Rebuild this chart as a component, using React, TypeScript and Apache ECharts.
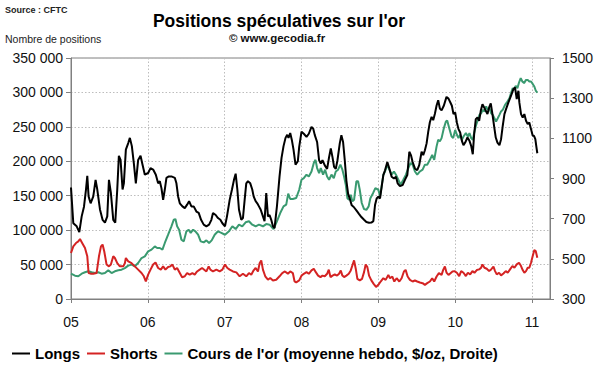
import React, { useEffect, useRef } from "react";
import * as echarts from "echarts";

// Decimal years (weekly CFTC data)
const longDates = [
  2005.000, 2005.030, 2005.074, 2005.108, 2005.139, 2005.169, 2005.195, 2005.212, 2005.229, 2005.255,
  2005.290, 2005.320, 2005.342, 2005.377, 2005.411, 2005.442, 2005.472, 2005.494, 2005.519, 2005.550,
  2005.576, 2005.602, 2005.623, 2005.645, 2005.671, 2005.688, 2005.714, 2005.745, 2005.766, 2005.792,
  2005.818, 2005.844, 2005.874, 2005.905, 2005.931, 2005.961, 2006.004, 2006.035, 2006.069, 2006.104,
  2006.134, 2006.156, 2006.177, 2006.199, 2006.221, 2006.242, 2006.273, 2006.307, 2006.351, 2006.372,
  2006.394, 2006.416, 2006.450, 2006.481, 2006.511, 2006.537, 2006.567, 2006.597, 2006.632, 2006.662,
  2006.693, 2006.727, 2006.762, 2006.797, 2006.827, 2006.848, 2006.883, 2006.913, 2006.944, 2006.970,
  2007.004, 2007.030, 2007.065, 2007.095, 2007.121, 2007.143, 2007.165, 2007.186, 2007.216, 2007.238,
  2007.260, 2007.281, 2007.303, 2007.333, 2007.359, 2007.377, 2007.403, 2007.424, 2007.446, 2007.468,
  2007.498, 2007.519, 2007.541, 2007.563, 2007.584, 2007.606, 2007.628, 2007.649, 2007.680, 2007.714,
  2007.740, 2007.766, 2007.792, 2007.814, 2007.831, 2007.853, 2007.874, 2007.896, 2007.922, 2007.952,
  2007.970, 2008.000, 2008.030, 2008.065, 2008.095, 2008.130, 2008.152, 2008.173, 2008.203, 2008.229,
  2008.251, 2008.273, 2008.303, 2008.333, 2008.359, 2008.381, 2008.403, 2008.424, 2008.446, 2008.468,
  2008.498, 2008.519, 2008.541, 2008.563, 2008.584, 2008.606, 2008.628, 2008.654, 2008.680, 2008.714,
  2008.745, 2008.779, 2008.814, 2008.844, 2008.879, 2008.909, 2008.935, 2008.957, 2008.978, 2009.000,
  2009.022, 2009.043, 2009.065, 2009.087, 2009.117, 2009.143, 2009.173, 2009.203, 2009.229, 2009.251,
  2009.281, 2009.316, 2009.346, 2009.377, 2009.403, 2009.424, 2009.446, 2009.476, 2009.506, 2009.532,
  2009.563, 2009.584, 2009.606, 2009.628, 2009.649, 2009.671, 2009.693, 2009.714, 2009.736, 2009.758,
  2009.779, 2009.801, 2009.823, 2009.853, 2009.887, 2009.913, 2009.939, 2009.957, 2009.978, 2010.000,
  2010.022, 2010.043, 2010.065, 2010.087, 2010.108, 2010.130, 2010.160, 2010.186, 2010.208, 2010.229,
  2010.247, 2010.268, 2010.290, 2010.312, 2010.333, 2010.355, 2010.377, 2010.398, 2010.420, 2010.442,
  2010.463, 2010.485, 2010.506, 2010.528, 2010.550, 2010.576, 2010.597, 2010.619, 2010.641, 2010.662,
  2010.693, 2010.727, 2010.758, 2010.779, 2010.801, 2010.823, 2010.835, 2010.857, 2010.879, 2010.900,
  2010.922, 2010.944, 2010.965, 2010.987, 2011.009, 2011.026, 2011.043, 2011.061, 2011.069,
];
const longValues = [
  162000, 110000, 105500, 97000, 120000, 134000, 159000, 179000, 149000, 139000,
  149000, 173000, 159000, 130000, 115000, 111000, 120000, 173000, 154000, 115000,
  111000, 159000, 208000, 202000, 159000, 168000, 217000, 226500, 234000, 222000,
  197000, 168000, 202000, 208000, 195000, 180500, 183000, 190000, 188000, 180500,
  168000, 171000, 161000, 144000, 159000, 176000, 178000, 178000, 176000, 168000,
  149000, 139000, 134500, 132000, 137000, 142000, 134500, 134500, 127000, 125000,
  115000, 108000, 105500, 108000, 115000, 125000, 122000, 117600, 115000, 110000,
  105500, 120000, 144000, 159000, 173000, 182000, 159000, 130000, 115000, 117600,
  144000, 168000, 171000, 168000, 159000, 149000, 142000, 139000, 134500, 130000,
  120000, 113000, 154000, 120000, 122000, 115000, 105500, 103000, 134500, 178000,
  205000, 222000, 234000, 238500, 234000, 241000, 231000, 217000, 195000, 200000,
  221000, 243000, 240000, 235500, 240000, 250000, 247500, 238000, 228000, 201500,
  196700, 201500, 194000, 189000, 206000, 218500, 206000, 192000, 189000, 201500,
  226000, 238000, 228000, 201500, 172000, 153000, 145700, 136000, 133600, 128700,
  124000, 119000, 115000, 111800, 110800, 111000, 113000, 136500, 146000, 148600,
  146000, 163000, 180000, 187000, 199000, 189600, 177500, 175000, 177500, 168000,
  164000, 165500, 173000, 180000, 213800, 209000, 199000, 189600, 187000, 194400,
  213800, 209000, 216000, 226000, 242800, 257000, 264500, 259700, 269000, 281000,
  288600, 276500, 274000, 281000, 293500, 291000, 285000, 280600, 268500, 271000,
  256300, 246700, 241800, 229700, 223400, 227200, 234500, 229700, 222400, 210300,
  239400, 261200, 263600, 258800, 273300, 283000, 278200, 273300, 268500, 278200,
  284000, 268500, 251500, 234500, 227200, 223400, 232100, 251500, 268500, 275700,
  285500, 295200, 304800, 307300, 290300, 302400, 285500, 268500, 263600, 268500,
  258800, 253900, 256300, 246700, 237000, 237000, 232100, 217600, 211700,
];

const shortDates = [
  2005.000, 2005.030, 2005.065, 2005.095, 2005.117, 2005.147, 2005.182, 2005.212, 2005.229, 2005.255,
  2005.290, 2005.333, 2005.364, 2005.390, 2005.411, 2005.433, 2005.463, 2005.494, 2005.519, 2005.550,
  2005.571, 2005.602, 2005.636, 2005.680, 2005.701, 2005.714, 2005.745, 2005.788, 2005.831, 2005.874,
  2005.918, 2005.948, 2005.974, 2006.004, 2006.035, 2006.069, 2006.100, 2006.134, 2006.169, 2006.199,
  2006.229, 2006.264, 2006.294, 2006.320, 2006.351, 2006.381, 2006.416, 2006.446, 2006.481, 2006.511,
  2006.545, 2006.580, 2006.610, 2006.641, 2006.675, 2006.706, 2006.762, 2006.792, 2006.814, 2006.848,
  2006.892, 2006.935, 2006.970, 2007.004, 2007.035, 2007.065, 2007.108, 2007.152, 2007.195, 2007.238,
  2007.281, 2007.316, 2007.346, 2007.377, 2007.403, 2007.433, 2007.455, 2007.476, 2007.498, 2007.528,
  2007.563, 2007.593, 2007.628, 2007.671, 2007.714, 2007.749, 2007.784, 2007.823, 2007.853, 2007.887,
  2007.909, 2007.931, 2007.970, 2008.000, 2008.030, 2008.065, 2008.095, 2008.130, 2008.160, 2008.186,
  2008.216, 2008.247, 2008.273, 2008.303, 2008.333, 2008.355, 2008.377, 2008.403, 2008.433, 2008.463,
  2008.489, 2008.511, 2008.532, 2008.554, 2008.584, 2008.615, 2008.641, 2008.662, 2008.684, 2008.706,
  2008.727, 2008.758, 2008.788, 2008.814, 2008.835, 2008.857, 2008.879, 2008.909, 2008.939, 2008.970,
  2009.000, 2009.030, 2009.065, 2009.095, 2009.130, 2009.152, 2009.182, 2009.208, 2009.238, 2009.273,
  2009.303, 2009.333, 2009.355, 2009.381, 2009.411, 2009.446, 2009.476, 2009.506, 2009.541, 2009.576,
  2009.606, 2009.636, 2009.671, 2009.701, 2009.727, 2009.758, 2009.788, 2009.823, 2009.844, 2009.866,
  2009.887, 2009.913, 2009.939, 2009.965, 2009.991, 2010.022, 2010.052, 2010.078, 2010.108, 2010.139,
  2010.165, 2010.195, 2010.225, 2010.251, 2010.281, 2010.312, 2010.338, 2010.355, 2010.381, 2010.411,
  2010.442, 2010.468, 2010.498, 2010.519, 2010.541, 2010.571, 2010.597, 2010.628, 2010.658, 2010.684,
  2010.714, 2010.745, 2010.771, 2010.801, 2010.831, 2010.857, 2010.879, 2010.900, 2010.922, 2010.944,
  2010.965, 2010.987, 2011.009, 2011.030, 2011.048, 2011.069,
];
const shortValues = [
  66800, 76500, 81300, 83700, 87000, 81000, 74000, 62000, 37700, 36800,
  36800, 37700, 62000, 76500, 79000, 69000, 50000, 47400, 50000, 62000,
  59500, 52000, 47400, 47400, 52000, 59500, 54700, 52000, 47400, 42600,
  37700, 33000, 25700, 35300, 42600, 50000, 53000, 45000, 42600, 47400,
  42600, 46500, 47400, 50000, 42600, 45000, 37700, 31500, 33000, 37700,
  35300, 37700, 35300, 40000, 42600, 45000, 40000, 47400, 42600, 40000,
  42600, 40000, 42600, 50000, 45000, 42600, 40000, 38700, 33000, 36800,
  33000, 37700, 35300, 41600, 45000, 40000, 52000, 56000, 42600, 33000,
  28000, 30500, 27000, 28000, 33000, 37700, 40000, 36800, 40000, 37700,
  25700, 24200, 27000, 34000, 36600, 39000, 36600, 41500, 44000, 39000,
  34000, 31800, 34000, 33000, 36600, 42500, 31800, 34000, 35600, 34000,
  36600, 41500, 34000, 31800, 34000, 36600, 41500, 48700, 56000, 44000,
  29300, 27000, 29300, 39000, 50200, 46300, 34000, 27000, 22000, 17500,
  20600, 25400, 30200, 27800, 35000, 30200, 32600, 25400, 30200, 25400,
  30200, 40000, 42300, 32600, 27800, 25400, 26900, 25400, 24000, 23000,
  20600, 23000, 25400, 30200, 25400, 32600, 37500, 35000, 42300, 47100,
  38400, 35000, 37500, 40000, 40500, 38100, 33300, 40500, 38100, 33300,
  38100, 35700, 40500, 38100, 42000, 43000, 45400, 50200, 45400, 43900,
  40500, 43000, 46900, 40500, 35700, 38100, 34300, 37100, 40500, 38100,
  43000, 47900, 45400, 50200, 52600, 47900, 42000, 38100, 40500, 45400,
  45400, 52600, 62300, 71000, 69600, 60000,
];

const goldDates = [
  2005.000, 2005.052, 2005.095, 2005.139, 2005.182, 2005.225, 2005.268, 2005.312, 2005.355, 2005.398,
  2005.442, 2005.485, 2005.528, 2005.571, 2005.615, 2005.658, 2005.701, 2005.745, 2005.788, 2005.831,
  2005.874, 2005.918, 2005.961, 2006.004, 2006.048, 2006.091, 2006.121, 2006.156, 2006.190, 2006.221,
  2006.264, 2006.307, 2006.338, 2006.359, 2006.381, 2006.407, 2006.437, 2006.468, 2006.502, 2006.532,
  2006.558, 2006.589, 2006.619, 2006.654, 2006.688, 2006.727, 2006.762, 2006.797, 2006.831, 2006.870,
  2006.913, 2006.957, 2007.004, 2007.056, 2007.100, 2007.143, 2007.186, 2007.229, 2007.273, 2007.316,
  2007.359, 2007.403, 2007.446, 2007.498, 2007.541, 2007.584, 2007.636, 2007.680, 2007.723, 2007.766,
  2007.801, 2007.827, 2007.853, 2007.887, 2007.931, 2007.970, 2008.000, 2008.030, 2008.065, 2008.095,
  2008.130, 2008.160, 2008.182, 2008.203, 2008.229, 2008.251, 2008.281, 2008.307, 2008.333, 2008.359,
  2008.390, 2008.420, 2008.446, 2008.476, 2008.506, 2008.532, 2008.554, 2008.576, 2008.597, 2008.619,
  2008.641, 2008.662, 2008.684, 2008.714, 2008.736, 2008.758, 2008.784, 2008.814, 2008.844, 2008.874,
  2008.896, 2008.931, 2008.961, 2009.000, 2009.022, 2009.043, 2009.065, 2009.087, 2009.117, 2009.143,
  2009.173, 2009.203, 2009.229, 2009.260, 2009.290, 2009.325, 2009.359, 2009.390, 2009.420, 2009.446,
  2009.476, 2009.506, 2009.541, 2009.576, 2009.606, 2009.636, 2009.671, 2009.701, 2009.727, 2009.758,
  2009.779, 2009.801, 2009.823, 2009.853, 2009.879, 2009.896, 2009.922, 2009.952, 2009.974, 2010.000,
  2010.022, 2010.043, 2010.065, 2010.087, 2010.108, 2010.139, 2010.165, 2010.186, 2010.208, 2010.229,
  2010.251, 2010.273, 2010.294, 2010.316, 2010.338, 2010.359, 2010.381, 2010.403, 2010.424, 2010.446,
  2010.468, 2010.489, 2010.511, 2010.532, 2010.554, 2010.576, 2010.597, 2010.619, 2010.649, 2010.680,
  2010.706, 2010.727, 2010.749, 2010.766, 2010.788, 2010.810, 2010.831, 2010.853, 2010.874, 2010.896,
  2010.922, 2010.944, 2010.965, 2010.987, 2011.009, 2011.030, 2011.048, 2011.069,
];
const goldValues = [
  426, 416, 413, 426, 433, 438, 433, 429, 433, 426,
  429, 443, 429, 438, 443, 446, 454, 466, 471, 463,
  479, 504, 512, 537, 546, 562, 554, 554, 546, 579,
  620, 662, 695, 698, 662, 645, 595, 587, 637, 645,
  629, 645, 637, 620, 587, 582, 592, 579, 592, 620,
  637, 629, 620, 637, 662, 648, 670, 662, 682, 687,
  670, 662, 670, 662, 673, 670, 648, 687, 728, 761,
  770, 825, 798, 798, 803, 844, 894, 902, 919, 910,
  935, 977, 993, 952, 927, 952, 919, 944, 910, 894,
  919, 902, 935, 944, 969, 944, 910, 869, 802, 794,
  819, 786, 794, 886, 886, 844, 778, 748, 744, 761,
  802, 827, 852, 844, 811, 861, 919, 935, 969, 944,
  919, 935, 919, 894, 869, 894, 919, 952, 977, 969,
  935, 919, 935, 944, 969, 969, 993, 1018, 993, 1060,
  1093, 1085, 1101, 1151, 1184, 1189, 1151, 1110, 1101, 1142,
  1118, 1101, 1118, 1093, 1109, 1126, 1109, 1126, 1101, 1093,
  1134, 1167, 1192, 1217, 1225, 1242, 1234, 1259, 1242, 1250,
  1225, 1217, 1200, 1184, 1200, 1217, 1234, 1242, 1267, 1283,
  1300, 1325, 1350, 1341, 1361, 1350, 1378, 1400, 1383, 1375,
  1391, 1391, 1383, 1383, 1371, 1358, 1338, 1328,
];

const seriesNames = ["Longs", "Shorts", "Cours de l'or (moyenne hebdo, $/oz, Droite)"];
const seriesColors = ["#000000", "#d42323", "#3a9a70"];

const FONT = "'Liberation Sans', Arial, sans-serif";

const pairs = (xs: number[], ys: number[]) => xs.map((x, i) => [x, ys[i]]);

const fmtLeft = (v: number) => (v === 0 ? "0" : `${Math.round(v / 1000)} 000`);

export default function App() {
  const ref = useRef<HTMLDivElement>(null);

  useEffect(() => {
    if (!ref.current) return;
    const chart = echarts.init(ref.current, undefined, { renderer: "svg" });
    const axisGray = "#808080";
    const gridLine = { show: true, lineStyle: { color: "#bdbdbd", type: [1.5, 2] as any, width: 1 } };
    chart.setOption({
      animation: false,
      backgroundColor: "#ffffff",
      grid: {
        left: 71,
        right: 50,
        top: 58,
        bottom: 73,
        show: true,
        borderColor: axisGray,
        borderWidth: 1,
        containLabel: false,
      },
      graphic: [
        {
          type: "text",
          left: 5,
          top: 5,
          style: { text: "Source : CFTC", font: `bold 9px ${FONT}`, fill: "#222" },
        },
        {
          type: "text",
          left: 5,
          top: 33,
          style: { text: "Nombre de positions", font: `10.5px ${FONT}`, fill: "#222" },
        },
        {
          type: "text",
          x: 279,
          y: 21,
          style: {
            text: "Positions spéculatives sur l'or",
            font: `bold 17.5px ${FONT}`,
            fill: "#000",
            align: "center",
            verticalAlign: "middle",
          },
        },
        {
          type: "text",
          x: 277,
          y: 38,
          style: {
            text: "© www.gecodia.fr",
            font: `bold 11.5px ${FONT}`,
            fill: "#111",
            align: "center",
            verticalAlign: "middle",
          },
        },
      ],
      legend: {
        left: 7,
        top: 341,
        itemWidth: 18,
        itemHeight: 2,
        itemGap: 7,
        icon: "rect",
        textStyle: { fontFamily: FONT, fontSize: 15, fontWeight: "bold", color: "#000" },
        data: seriesNames,
      },
      xAxis: {
        type: "value",
        min: 2005,
        max: 2011.234,
        interval: 1,
        axisLine: { show: true, lineStyle: { color: axisGray } },
        axisTick: { show: true, length: 4, lineStyle: { color: axisGray } },
        axisLabel: {
          margin: 16,
          fontFamily: FONT,
          fontSize: 14,
          color: "#111",
          showMaxLabel: false,
          formatter: (v: number) =>
            Math.abs(v - Math.round(v)) < 1e-6 ? String(Math.round(v) % 100).padStart(2, "0") : "",
        },
        splitLine: gridLine,
      },
      yAxis: [
        {
          type: "value",
          min: 0,
          max: 350000,
          interval: 50000,
          position: "left",
          axisLine: { show: true, lineStyle: { color: axisGray } },
          axisTick: { show: true, length: 5, lineStyle: { color: axisGray } },
          axisLabel: { margin: 8, fontFamily: FONT, fontSize: 14, color: "#111", formatter: fmtLeft },
          splitLine: gridLine,
        },
        {
          type: "value",
          min: 300,
          max: 1500,
          interval: 200,
          position: "right",
          axisLine: { show: true, lineStyle: { color: axisGray } },
          axisTick: { show: true, length: 4, lineStyle: { color: axisGray } },
          axisLabel: {
            margin: 12,
            fontFamily: FONT,
            fontSize: 14,
            color: "#111",
            formatter: (v: number) => String(Math.round(v)),
          },
          splitLine: { show: false },
        },
      ],
      series: [
        {
          name: seriesNames[0],
          type: "line",
          yAxisIndex: 0,
          data: pairs(longDates, longValues),
          showSymbol: false,
          symbol: "none",
          color: seriesColors[0],
          lineStyle: { width: 2, color: seriesColors[0] },
          emphasis: { disabled: true },
          z: 3,
        },
        {
          name: seriesNames[1],
          type: "line",
          yAxisIndex: 0,
          data: pairs(shortDates, shortValues),
          showSymbol: false,
          symbol: "none",
          color: seriesColors[1],
          lineStyle: { width: 2, color: seriesColors[1] },
          emphasis: { disabled: true },
          z: 3,
        },
        {
          name: seriesNames[2],
          type: "line",
          yAxisIndex: 1,
          data: pairs(goldDates, goldValues),
          showSymbol: false,
          symbol: "none",
          color: seriesColors[2],
          lineStyle: { width: 2, color: seriesColors[2] },
          emphasis: { disabled: true },
          z: 2,
        },
      ],
    });
    return () => chart.dispose();
  }, []);

  return <div ref={ref} style={{ width: 600, height: 372, position: "absolute", left: 0, top: 0 }} />;
}
